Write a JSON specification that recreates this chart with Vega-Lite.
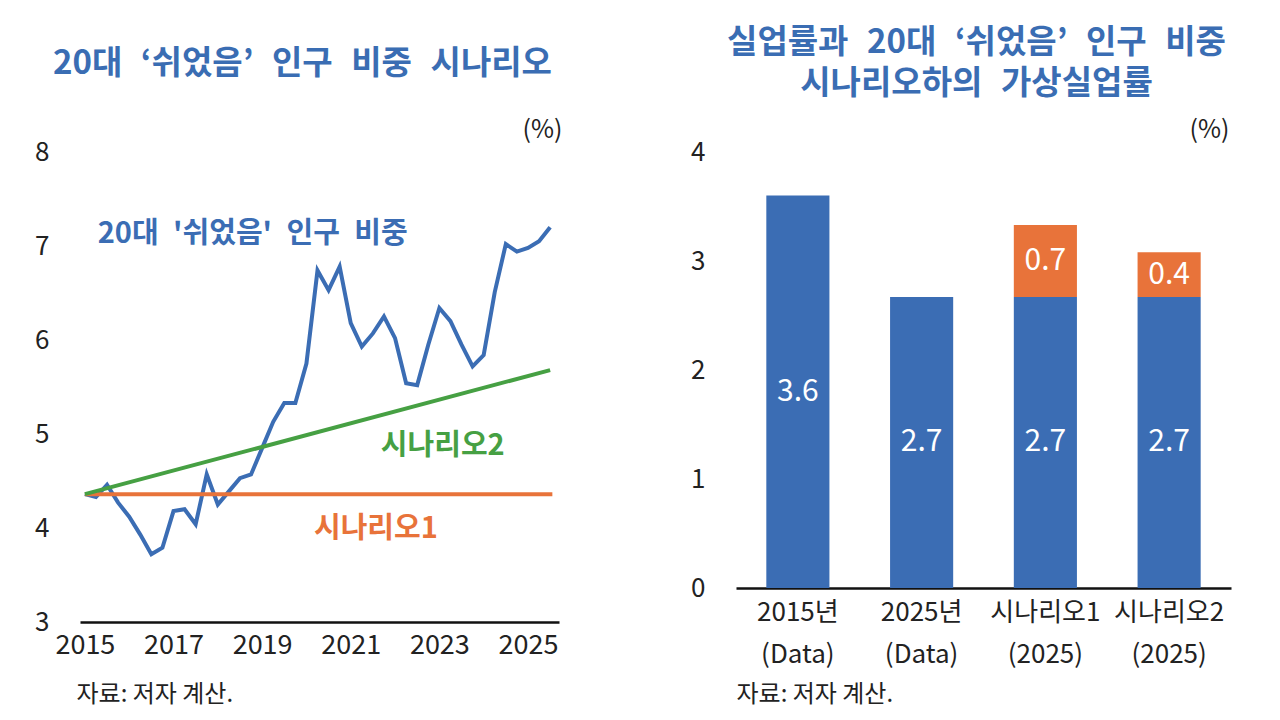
{
  "$schema": "https://vega.github.io/schema/vega-lite/v6.json",
  "description": "20대 쉬었음 인구 비중 시나리오와 가상실업률",
  "padding": {"left": 34, "top": 27, "right": 10, "bottom": 5},
  "background": "white",
  "bounds": "flush",
  "spacing": 177,
  "config": {
    "view": {"stroke": null},
    "font": "Noto Sans CJK KR",
    "axis": {
      "labelFont": "Noto Sans CJK KR",
      "titleFont": "Noto Sans CJK KR",
      "labelColor": "#222222",
      "titleColor": "#222222",
      "grid": false,
      "ticks": false,
      "tickSize": 0
    },
    "title": {"font": "Noto Sans CJK KR", "color": "#3a6db3", "fontWeight": "bold"}
  },
  "hconcat": [
    {
      "width": 479,
      "height": 470,
      "title": {
        "text": "20대\u2002\u200a‘쉬었음’\u2002\u200a인구\u2002\u200a비중\u2002\u200a시나리오",
        "fontSize": 33,
        "anchor": "start",
        "frame": "group",
        "dx": -27,
        "offset": 36
      },
      "data": {
        "values": [
          {"series": "20대 '쉬었음' 인구 비중", "t": 2015.00, "value": 4.36},
          {"series": "20대 '쉬었음' 인구 비중", "t": 2015.25, "value": 4.33},
          {"series": "20대 '쉬었음' 인구 비중", "t": 2015.50, "value": 4.46},
          {"series": "20대 '쉬었음' 인구 비중", "t": 2015.75, "value": 4.27},
          {"series": "20대 '쉬었음' 인구 비중", "t": 2016.00, "value": 4.12},
          {"series": "20대 '쉬었음' 인구 비중", "t": 2016.25, "value": 3.93},
          {"series": "20대 '쉬었음' 인구 비중", "t": 2016.50, "value": 3.72},
          {"series": "20대 '쉬었음' 인구 비중", "t": 2016.75, "value": 3.79},
          {"series": "20대 '쉬었음' 인구 비중", "t": 2017.00, "value": 4.18},
          {"series": "20대 '쉬었음' 인구 비중", "t": 2017.25, "value": 4.20},
          {"series": "20대 '쉬었음' 인구 비중", "t": 2017.50, "value": 4.04},
          {"series": "20대 '쉬었음' 인구 비중", "t": 2017.75, "value": 4.57},
          {"series": "20대 '쉬었음' 인구 비중", "t": 2018.00, "value": 4.25},
          {"series": "20대 '쉬었음' 인구 비중", "t": 2018.25, "value": 4.39},
          {"series": "20대 '쉬었음' 인구 비중", "t": 2018.50, "value": 4.53},
          {"series": "20대 '쉬었음' 인구 비중", "t": 2018.75, "value": 4.57},
          {"series": "20대 '쉬었음' 인구 비중", "t": 2019.00, "value": 4.85},
          {"series": "20대 '쉬었음' 인구 비중", "t": 2019.25, "value": 5.13},
          {"series": "20대 '쉬었음' 인구 비중", "t": 2019.50, "value": 5.33},
          {"series": "20대 '쉬었음' 인구 비중", "t": 2019.75, "value": 5.33},
          {"series": "20대 '쉬었음' 인구 비중", "t": 2020.00, "value": 5.75},
          {"series": "20대 '쉬었음' 인구 비중", "t": 2020.25, "value": 6.74},
          {"series": "20대 '쉬었음' 인구 비중", "t": 2020.50, "value": 6.53},
          {"series": "20대 '쉬었음' 인구 비중", "t": 2020.75, "value": 6.78},
          {"series": "20대 '쉬었음' 인구 비중", "t": 2021.00, "value": 6.18},
          {"series": "20대 '쉬었음' 인구 비중", "t": 2021.25, "value": 5.93},
          {"series": "20대 '쉬었음' 인구 비중", "t": 2021.50, "value": 6.07},
          {"series": "20대 '쉬었음' 인구 비중", "t": 2021.75, "value": 6.25},
          {"series": "20대 '쉬었음' 인구 비중", "t": 2022.00, "value": 6.02},
          {"series": "20대 '쉬었음' 인구 비중", "t": 2022.25, "value": 5.54},
          {"series": "20대 '쉬었음' 인구 비중", "t": 2022.50, "value": 5.52},
          {"series": "20대 '쉬었음' 인구 비중", "t": 2022.75, "value": 5.95},
          {"series": "20대 '쉬었음' 인구 비중", "t": 2023.00, "value": 6.34},
          {"series": "20대 '쉬었음' 인구 비중", "t": 2023.25, "value": 6.20},
          {"series": "20대 '쉬었음' 인구 비중", "t": 2023.50, "value": 5.95},
          {"series": "20대 '쉬었음' 인구 비중", "t": 2023.75, "value": 5.72},
          {"series": "20대 '쉬었음' 인구 비중", "t": 2024.00, "value": 5.84},
          {"series": "20대 '쉬었음' 인구 비중", "t": 2024.25, "value": 6.51},
          {"series": "20대 '쉬었음' 인구 비중", "t": 2024.50, "value": 7.02},
          {"series": "20대 '쉬었음' 인구 비중", "t": 2024.75, "value": 6.94},
          {"series": "20대 '쉬었음' 인구 비중", "t": 2025.00, "value": 6.98},
          {"series": "20대 '쉬었음' 인구 비중", "t": 2025.25, "value": 7.05},
          {"series": "20대 '쉬었음' 인구 비중", "t": 2025.50, "value": 7.20},
          {"series": "시나리오1", "t": 2015.00, "value": 4.36},
          {"series": "시나리오1", "t": 2025.55, "value": 4.36},
          {"series": "시나리오2", "t": 2015.00, "value": 4.36},
          {"series": "시나리오2", "t": 2025.50, "value": 5.68}
        ]
      },
      "encoding": {
        "x": {
          "field": "t",
          "type": "quantitative",
          "scale": {"domain": [2014.89, 2025.7], "nice": false, "zero": false},
          "axis": {
            "values": [2015, 2017, 2019, 2021, 2023, 2025],
            "format": "d",
            "labelFontSize": 27,
            "labelPadding": 10,
            "domainColor": "#111111",
            "domainWidth": 2.5,
            "title": "자료: 저자 계산.",
            "titleFontSize": 24,
            "titleFontWeight": "normal",
            "titleAnchor": "start",
            "titleAlign": "left",
            "titleBaseline": "middle",
            "titleX": -4,
            "titleY": 72
          }
        },
        "y": {
          "field": "value",
          "type": "quantitative",
          "scale": {"domain": [3, 8], "nice": false, "zero": false},
          "axis": {
            "values": [3, 4, 5, 6, 7, 8],
            "domain": false,
            "labelFontSize": 26,
            "labelPadding": 31,
            "title": "(%)",
            "titleAngle": 0,
            "titleFontSize": 25,
            "titleFontWeight": "normal",
            "titleAlign": "center",
            "titleBaseline": "middle",
            "titleX": 462,
            "titleY": -23
          }
        },
        "color": {
          "field": "series",
          "type": "nominal",
          "scale": {
            "domain": ["20대 '쉬었음' 인구 비중", "시나리오1", "시나리오2"],
            "range": ["#3b6db4", "#e8733a", "#46a043"]
          },
          "legend": null
        }
      },
      "layer": [
        {
          "mark": {"type": "line", "strokeWidth": 4, "strokeJoin": "miter"},
          "encoding": {"order": {"field": "t", "type": "quantitative"}}
        },
        {
          "data": {
            "values": [
              {"series": "20대 '쉬었음' 인구 비중", "label": "20대\u2002'쉬었음'\u2002인구\u2002비중", "t": 2015.29, "value": 7.13},
              {"series": "시나리오2", "label": "시나리오2", "t": 2021.68, "value": 4.87},
              {"series": "시나리오1", "label": "시나리오1", "t": 2020.17, "value": 3.99}
            ]
          },
          "mark": {"type": "text", "align": "left", "baseline": "middle", "fontSize": 29, "fontWeight": "bold"},
          "encoding": {"text": {"field": "label"}}
        }
      ]
    },
    {
      "width": 495,
      "height": 436,
      "title": {
        "text": ["실업률과\u2002\u200a20대\u2002\u200a‘쉬었음’\u2002\u200a인구\u2002\u200a비중", "시나리오하의\u2002\u200a가상실업률"],
        "fontSize": 33,
        "lineHeight": 41,
        "anchor": "middle",
        "dx": -7,
        "offset": 16
      },
      "data": {
        "values": [
          {"cat": "2015년\n(Data)", "part": "실업률", "value": 3.6},
          {"cat": "2025년\n(Data)", "part": "실업률", "value": 2.67},
          {"cat": "시나리오1\n(2025)", "part": "실업률", "value": 2.67},
          {"cat": "시나리오1\n(2025)", "part": "가상 증가분", "value": 0.66},
          {"cat": "시나리오2\n(2025)", "part": "실업률", "value": 2.67},
          {"cat": "시나리오2\n(2025)", "part": "가상 증가분", "value": 0.41}
        ]
      },
      "transform": [
        {
          "stack": "value",
          "groupby": ["cat"],
          "sort": [{"field": "part", "order": "descending"}],
          "as": ["v0", "v1"]
        },
        {"calculate": "(datum.v0 + datum.v1) / 2", "as": "mid"}
      ],
      "encoding": {
        "x": {
          "field": "cat",
          "type": "nominal",
          "sort": null,
          "scale": {"paddingInner": 0.49, "paddingOuter": 0.245},
          "axis": {
            "labelAngle": 0,
            "labelExpr": "split(datum.label, '\\n')",
            "labelFontSize": 26,
            "labelLineHeight": 42,
            "labelPadding": 11,
            "labelBaseline": "top",
            "domainColor": "#111111",
            "domainWidth": 2.5,
            "title": "자료: 저자 계산.",
            "titleFontSize": 24,
            "titleFontWeight": "normal",
            "titleAnchor": "start",
            "titleAlign": "left",
            "titleBaseline": "middle",
            "titleX": 0,
            "titleY": 106
          }
        }
      },
      "layer": [
        {
          "mark": {"type": "bar"},
          "encoding": {
            "y": {
              "field": "v0",
              "type": "quantitative",
              "scale": {"domain": [0, 4], "nice": false},
              "axis": {
                "values": [0, 1, 2, 3, 4],
                "format": "d",
                "domain": false,
                "labelFontSize": 26,
                "labelPadding": 31,
                "title": "(%)",
                "titleAngle": 0,
                "titleFontSize": 25,
                "titleFontWeight": "normal",
                "titleAlign": "center",
                "titleBaseline": "middle",
                "titleX": 473,
                "titleY": -23
              }
            },
            "y2": {"field": "v1"},
            "color": {
              "field": "part",
              "type": "nominal",
              "scale": {"domain": ["실업률", "가상 증가분"], "range": ["#3c6baf", "#e2692a"]},
              "legend": null
            }
          }
        },
        {
          "mark": {"type": "text", "color": "white", "fontSize": 30, "baseline": "middle"},
          "encoding": {
            "y": {"field": "mid", "type": "quantitative"},
            "text": {"field": "value", "type": "quantitative", "format": ".1f"}
          }
        }
      ]
    }
  ]
}
